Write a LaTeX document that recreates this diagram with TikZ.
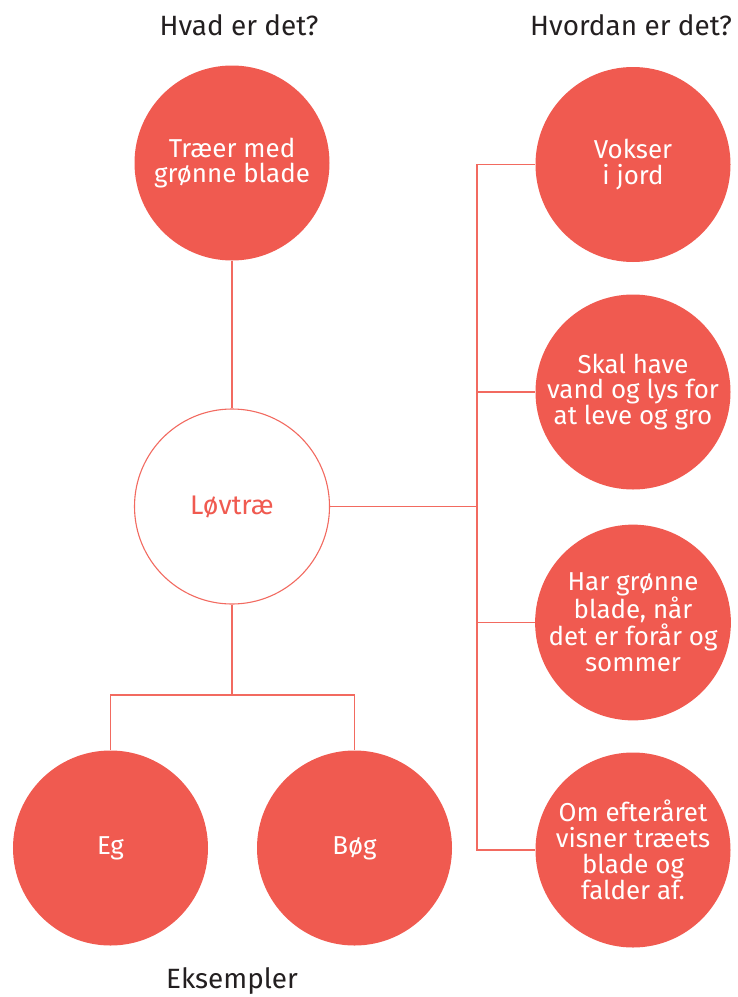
\documentclass[tikz,border=0pt]{standalone}
\usepackage{fontspec}
\setmainfont{Fira Sans}
\definecolor{cred}{HTML}{F05A50}
\definecolor{cline}{HTML}{F26A60}
\definecolor{ctitle}{HTML}{231F20}
\begin{document}
\begin{tikzpicture}[x=1bp,y=-1bp,
  full/.style={circle,fill=cred,minimum size=195bp,inner sep=0pt,text=white,align=center,
    font=\fontsize{26}{26}\selectfont},
  hollow/.style={circle,draw=cline,line width=1.1bp,fill=white,minimum size=195bp,inner sep=0pt,text=cred,
    font=\fontsize{27}{27}\selectfont},
  conn/.style={draw=cline,line width=1.2bp},
  title/.style={text=ctitle,font=\fontsize{28}{30}\selectfont,anchor=base}]
\useasboundingbox (0,0) rectangle (738,997);
\node[full] (top) at (232,163) {Træer med\\grønne blade};
\node[hollow] (mid) at (232,506.5) {Løvtræ};
\node[full] (eg) at (110.5,848) {Eg};
\node[full] (bog) at (354.5,848) {Bøg};
\node[full] (r1) at (633,164.5) {Vokser\\i jord};
\node[full] (r2) at (633,392) {Skal have\\vand og lys for\\at leve og gro};
\node[full] (r3) at (633,622.5) {Har grønne\\blade, når\\det er forår og\\sommer};
\node[full] (r4) at (633,850) {Om efteråret\\visner træets\\blade og\\falder af.};
\node[title] (t1) at (239,35) {Hvad er det?};
\node[title] (t2) at (631,35) {Hvordan er det?};
\node[title] (t3) at (232,988) {Eksempler};
\coordinate (bj) at (232,695);
\coordinate (rj) at (477,506.5);
\draw[conn] (top.south) -- (mid.north);
\draw[conn] (mid.south) -- (bj);
\draw[conn] (bj) -| (eg.north);
\draw[conn] (bj) -| (bog.north);
\draw[conn] (mid.east) -- (rj);
\draw[conn] (rj) |- (r1.west);
\draw[conn] (rj) |- (r2.west);
\draw[conn] (rj) |- (r3.west);
\draw[conn] (rj) |- (r4.west);
\end{tikzpicture}
\end{document}
